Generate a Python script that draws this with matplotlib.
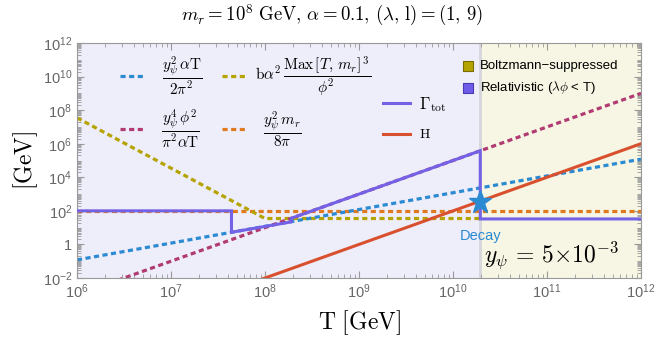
import numpy as np
import matplotlib
matplotlib.use("Agg")
import matplotlib.pyplot as plt
from matplotlib.ticker import LogLocator, FixedLocator, FuncFormatter, NullFormatter

plt.rcParams['font.family'] = ['Liberation Sans', 'DejaVu Sans']
plt.rcParams['mathtext.fontset'] = 'cm'

# ---- data ----
T_blue = [1e6, 1e12]
v_blue = [0.12, 1.2e5]          # y^2 alpha T / (2 pi^2)
T_mag = [1e6, 1e12]
v_mag = [1.0e-3, 1.0e9]         # y^4 phi^2 / (pi^2 alpha T)
T_yel = [1e6, 1e8, 1.95e10]
v_yel = [3.5e7, 35, 35]         # b alpha^2 Max[T,m_r]^3 / phi^2
T_org = [1e6, 1e12]
v_org = [100, 100]              # y^2 m_r / (8 pi)
T_gam = [1e6, 4.4e7, 4.4e7, 1.9e8, 1.9e8, 1.95e10, 1.95e10, 1e12]
v_gam = [100, 100, 5.3, 22, 36, 3.8e5, 33, 33]
T_H = [1e6, 1e12]
v_H = [1e-6, 1e6]
T_boundary = 1.95e10
T_star, v_star = 1.95e10, 350
xlim = (1e6, 1e12)
ylim = (1e-2, 1e12)
ytick_vals = [1e-2, 1, 1e2, 1e4, 1e6, 1e8, 1e10, 1e12]

c_blue = '#2A8AD2'
c_mag = '#B03A72'
c_yel = '#B5A300'
c_org = '#E07A20'
c_gam = '#7462E6'
c_H = '#D9502E'
c_lav = '#EEEDFA'
c_cream = '#F7F5E3'

fig = plt.figure(figsize=(6.64, 3.46), dpi=100)
ax = fig.add_axes([77/664, 1-278/346, 564/664, 235/346])
ax.set_xscale('log')
ax.set_yscale('log')
ax.set_xlim(*xlim)
ax.set_ylim(*ylim)

ax.axvspan(xlim[0], T_boundary, color=c_lav, zorder=0, lw=0)
ax.axvspan(T_boundary, xlim[1], color=c_cream, zorder=0, lw=0)
ax.axvline(T_boundary, color='#D6D6DC', lw=2, zorder=0.5)

dot = (0, (1.6, 1.1))
lwd = 2.3
ax.plot(T_org, v_org, color=c_org, lw=lwd, ls=dot, zorder=2)
ax.plot(T_yel, v_yel, color=c_yel, lw=lwd, ls=dot, zorder=2)
ax.plot(T_blue, v_blue, color=c_blue, lw=lwd, ls=dot, zorder=2)
ax.plot(T_mag, v_mag, color=c_mag, lw=lwd, ls=dot, zorder=2)
ax.plot(T_H, v_H, color=c_H, lw=2.2, zorder=3)
ax.plot(T_gam, v_gam, color=c_gam, lw=2.2, zorder=3, solid_joinstyle='miter')
ax.plot([T_star], [v_star], marker='*', ms=17, color=c_blue, mec=c_blue, zorder=5)

# ticks
ax.xaxis.set_major_locator(LogLocator(base=10, numticks=20))
ax.xaxis.set_minor_locator(LogLocator(base=10, subs=np.arange(2, 10), numticks=100))
ax.yaxis.set_major_locator(FixedLocator(ytick_vals))
ax.yaxis.set_minor_locator(LogLocator(base=10, subs=np.arange(1, 10), numticks=100))
ax.xaxis.set_minor_formatter(NullFormatter())
ax.yaxis.set_minor_formatter(NullFormatter())

def fmt(v, pos):
    e = int(round(np.log10(v)))
    if e == 0:
        return '1'
    return r'$\mathregular{10^{%d}}$' % e

ax.xaxis.set_major_formatter(FuncFormatter(fmt))
ax.yaxis.set_major_formatter(FuncFormatter(fmt))
ax.tick_params(which='both', direction='in', top=True, right=True, color='#999999',
               labelcolor='#666666', labelsize=10.5)
ax.tick_params(which='major', length=5, width=0.8)
ax.tick_params(which='minor', length=3, width=0.6)
for s in ax.spines.values():
    s.set_color('#999999')

fig.text(0.5, 0.955, r'$m_r = 10^8\ \mathrm{GeV},\, \alpha = 0.1,\, (\lambda,\, \mathrm{l}) = (1,\, 9)$',
         ha='center', va='center', fontsize=13.5)
ax.set_xlabel(r'$\mathrm{T\ [GeV]}$', fontsize=17, labelpad=5)
ax.set_ylabel(r'$\mathrm{[GeV]}$', fontsize=17, labelpad=2)

# legend (drawn manually)
tr = ax.transAxes
def seg(x0, x1, y, c, ls, lw):
    ax.plot([x0, x1], [y, y], transform=tr, color=c, ls=ls, lw=lw, zorder=6, clip_on=False)

fs_leg = 11
seg(0.076, 0.117, 0.86, c_blue, dot, lwd)
ax.text(0.186, 0.86, r'$\dfrac{y_\psi^2\,\alpha\mathrm{T}}{2\pi^2}$', transform=tr, ha='center', va='center', fontsize=fs_leg)
seg(0.257, 0.298, 0.86, c_yel, dot, lwd)
ax.text(0.316, 0.86, r'$\mathrm{b}\alpha^2\,\dfrac{\mathrm{Max}\,[T,\,m_r]^{\,3}}{\phi^2}$', transform=tr, ha='left', va='center', fontsize=fs_leg)
seg(0.076, 0.117, 0.634, c_mag, dot, lwd)
ax.text(0.183, 0.634, r'$\dfrac{y_\psi^4\,\phi^2}{\pi^2\alpha\mathrm{T}}$', transform=tr, ha='center', va='center', fontsize=fs_leg)
seg(0.257, 0.298, 0.634, c_org, dot, lwd)
ax.text(0.365, 0.634, r'$\dfrac{y_\psi^2\,m_r}{8\pi}$', transform=tr, ha='center', va='center', fontsize=fs_leg)
seg(0.543, 0.590, 0.745, c_gam, '-', 2.2)
ax.text(0.606, 0.740, r'$\Gamma_{\mathrm{tot}}$', transform=tr, ha='left', va='center', fontsize=12)
seg(0.543, 0.590, 0.613, c_H, '-', 2.2)
ax.text(0.606, 0.613, r'$\mathrm{H}$', transform=tr, ha='left', va='center', fontsize=10)

ax.scatter([0.693], [0.902], marker='s', s=55, color=c_yel, edgecolors='#7A6E00', lw=0.8, transform=tr, zorder=6, clip_on=False)
ax.text(0.714, 0.902, 'Boltzmann\u2212suppressed', transform=tr, ha='left', va='center', fontsize=9.5)
ax.scatter([0.693], [0.809], marker='s', s=55, color='#6F5CE8', edgecolors='#4A3CB0', lw=0.8, transform=tr, zorder=6, clip_on=False)
ax.text(0.714, 0.809, r'Relativistic ($\lambda\phi$ < T)', transform=tr, ha='left', va='center', fontsize=9.5)

ax.text(0.715, 0.18, 'Decay', transform=tr, ha='center', va='center', fontsize=10.5, color=c_blue)
ax.text(0.722, 0.068, r'$y_\psi\, =\, 5{\times}10^{-3}$', transform=tr, ha='left', va='baseline', fontsize=17)

fig.savefig('out.png', dpi=100)
